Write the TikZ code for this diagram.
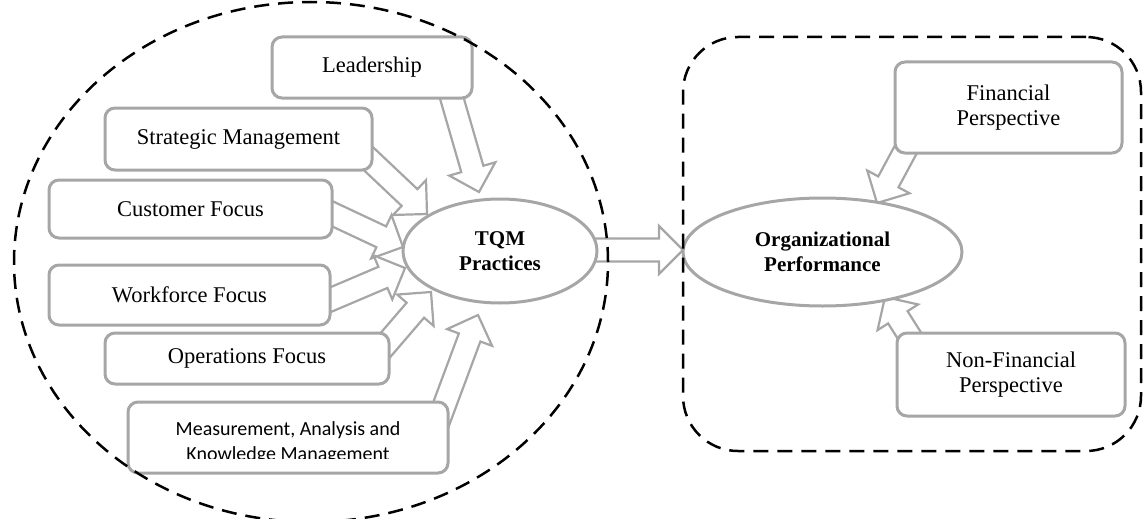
\documentclass[tikz,border=0pt]{standalone}
\usepackage{fontspec}
\setmainfont{Liberation Serif}
\newfontfamily\calfont{Carlito}
\usetikzlibrary{calc,shapes.geometric}
\pgfdeclarelayer{bg}
\pgfsetlayers{bg,main}
\definecolor{boxgray}{HTML}{A6A6A6}
\tikzset{
  box/.style={draw=boxgray, line width=3pt, rounded corners=10pt, fill=white, inner sep=0pt,
    font=\fontsize{22.5}{25}\selectfont, align=center},
  oval/.style={ellipse, draw=boxgray, line width=3pt, fill=white, inner sep=0pt,
    font=\fontsize{21}{24.5}\selectfont\bfseries, align=center},
  blockarr/.style={draw=boxgray, line width=2.2pt, fill=white, line join=miter},
  dashline/.style={draw=black, line width=2.5pt, dash pattern=on 15pt off 9pt}
}
% block arrow from #1 (tail) to #2 (tip)
\newcommand\blkarrow[2]{%
  \path ($(#2)!24pt!(#1)$) coordinate (hb);
  \filldraw[blockarr] ($(#1)!11.5pt!90:(#2)$) -- ($(hb)!11.5pt!90:(#2)$) -- ($(hb)!24pt!90:(#2)$)
    -- (#2) -- ($(hb)!24pt!-90:(#2)$) -- ($(hb)!11.5pt!-90:(#2)$) -- ($(#1)!11.5pt!-90:(#2)$) -- cycle;
}
\begin{document}
\begin{tikzpicture}[x=1pt,y=-1pt]
\useasboundingbox (0,0) rectangle (1143,519);

% boxes
\node[box, minimum width=200pt, minimum height=61pt] (lead) at (372,67.5) {Leadership};
\node[box, minimum width=267pt, minimum height=62pt] (strat) at (238.5,139) {Strategic Management};
\node[box, minimum width=283pt, minimum height=58pt] (cust) at (190.5,209) {Customer Focus};
\node[box, minimum width=281pt, minimum height=60pt] (work) at (189.5,295) {Workforce Focus};
\node[box, minimum width=284pt, minimum height=51pt] (ops) at (247,358.5) {Operations Focus};
\node[box, minimum width=320pt, minimum height=71pt] (meas) at (288,437.5) {};
\begin{scope}
  \clip (130,404) rectangle (446,458);
  \node[font=\calfont\fontsize{20}{25}\selectfont, align=center, inner sep=0pt] (meastext) at (288,442.5)
    {Measurement, Analysis and\\Knowledge Management};
\end{scope}

\node[oval, minimum width=194pt, minimum height=104pt] (tqm) at (500,251) {TQM\\Practices};
\node[oval, minimum width=279pt, minimum height=108pt] (org) at (822.5,252) {Organizational\\Performance};

\node[box, minimum width=227pt, minimum height=91pt] (fin) at (1008.5,107.5) {Financial\\Perspective};
\node[box, minimum width=228pt, minimum height=83pt] (nonfin) at (1011,374.5) {Non-Financial\\Perspective};

% arrow end points
\coordinate (leadT) at (448,85);   \coordinate (leadH) at (479,192);
\coordinate (stratT) at (355,146); \coordinate (stratH) at (427,214);
\coordinate (custT) at (320,208);  \coordinate (custH) at (403,247);
\coordinate (workT) at (318,305);  \coordinate (workH) at (405,268);
\coordinate (opsT) at (376,356);   \coordinate (opsH) at (431,292);
\coordinate (measT) at (437,425);  \coordinate (measH) at (478,315);
\coordinate (tqmT) at (590,250);   \coordinate (tqmH) at (683,250);
\coordinate (finT) at (912,138);   \coordinate (finH) at (877,203);
\coordinate (nonT) at (916,346);   \coordinate (nonH) at (885,297);

\begin{pgfonlayer}{bg}
  \blkarrow{leadT}{leadH}
  \blkarrow{stratT}{stratH}
  \blkarrow{custT}{custH}
  \blkarrow{workT}{workH}
  \blkarrow{opsT}{opsH}
  \blkarrow{measT}{measH}
  \blkarrow{tqmT}{tqmH}
  \blkarrow{finT}{finH}
  \blkarrow{nonT}{nonH}
\end{pgfonlayer}

% dashed groups
\node[ellipse, dashline, inner sep=0pt, minimum width=594pt, minimum height=520pt] (grpL) at (311,262) {};
\node[dashline, rounded corners=55pt, inner sep=0pt, minimum width=458pt, minimum height=414pt] (grpR) at (912,244) {};
\end{tikzpicture}
\end{document}
